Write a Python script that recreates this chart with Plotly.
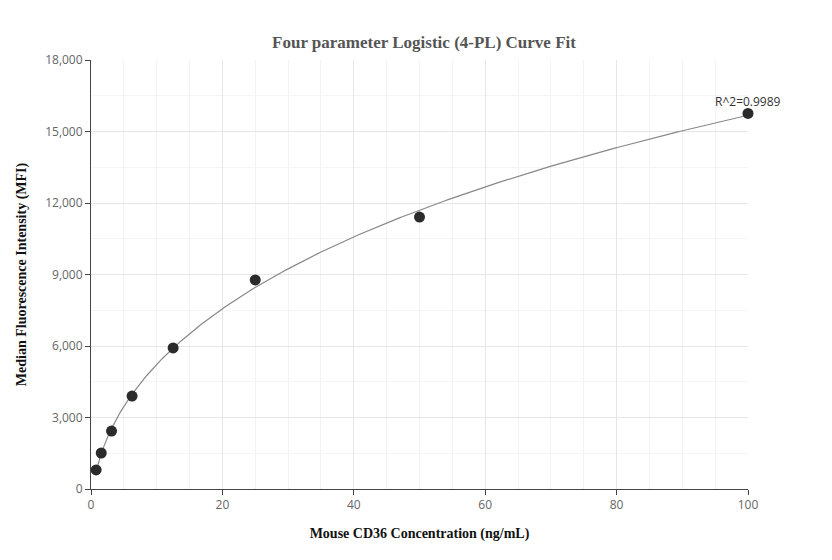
import numpy as np
import plotly.graph_objects as go

conc = [0.78, 1.56, 3.125, 6.25, 12.5, 25, 50, 100]
mfi = [800, 1510, 2430, 3900, 5920, 8770, 11410, 15760]
r2_label = "R^2=0.9989"

x = np.array(conc, float); y = np.array(mfi, float)
best = None
for b in np.arange(0.4, 2.0, 0.01):
    for c in np.exp(np.linspace(np.log(2), np.log(2000), 300)):
        g = 1 / (1 + (x / c) ** b)
        A = np.vstack([g, 1 - g]).T
        coef, *_ = np.linalg.lstsq(A, y, rcond=None)
        err = np.sum((A @ coef - y) ** 2)
        if best is None or err < best[0]:
            best = (err, b, c, coef)
_, b, c, (a, d) = best
xs = np.linspace(min(conc), max(conc), 400)
ys = d + (a - d) / (1 + (xs / c) ** b)

fig = go.Figure()
fig.add_trace(go.Scatter(x=xs, y=ys, mode="lines", line=dict(color="#888888", width=1.2), hoverinfo="skip"))
fig.add_trace(go.Scatter(x=conc, y=mfi, mode="markers", marker=dict(color="#2b2b2b", size=11), cliponaxis=False))
fig.add_annotation(x=conc[-1], y=mfi[-1], text=r2_label, showarrow=False, yshift=12, xanchor="center",
                   font=dict(family="Open Sans, sans-serif", size=12, color="#333"))
fig.update_layout(
    width=832, height=560, showlegend=False, plot_bgcolor="white", paper_bgcolor="white",
    margin=dict(l=75, r=92, t=52, b=79),
    title=dict(text="<b>Four parameter Logistic (4-PL) Curve Fit</b>", x=0.5, y=0.94, yanchor="middle", xanchor="center",
               font=dict(family="Times New Roman, Liberation Serif, serif", size=17, color="#555")),
    xaxis=dict(range=[0, 100], dtick=20, showgrid=True, gridcolor="#e6e6e6", showline=True, linecolor="#444",
               minor=dict(dtick=5, showgrid=True, gridcolor="#f3f3f3"),
               ticks="outside", ticklen=5, tickcolor="#444", zeroline=False,
               tickfont=dict(family="Open Sans, sans-serif", size=12, color="#666"),
               title=dict(text="<b>Mouse CD36 Concentration (ng/mL)</b>",
                          font=dict(family="Times New Roman, Liberation Serif, serif", size=14, color="#111"))),
    yaxis=dict(range=[0, 18000], dtick=3000, tickformat=",", showgrid=True, gridcolor="#e6e6e6", showline=True,
               minor=dict(dtick=1500, showgrid=True, gridcolor="#f5f5f5"),
               linecolor="#444", ticks="outside", ticklen=5, tickcolor="#444", zeroline=False,
               tickfont=dict(family="Open Sans, sans-serif", size=12, color="#666"),
               title=dict(text="<b>Median Fluorescence Intensity (MFI)</b>",
                          font=dict(family="Times New Roman, Liberation Serif, serif", size=14, color="#111"))),
)
fig.write_html("out.html")
